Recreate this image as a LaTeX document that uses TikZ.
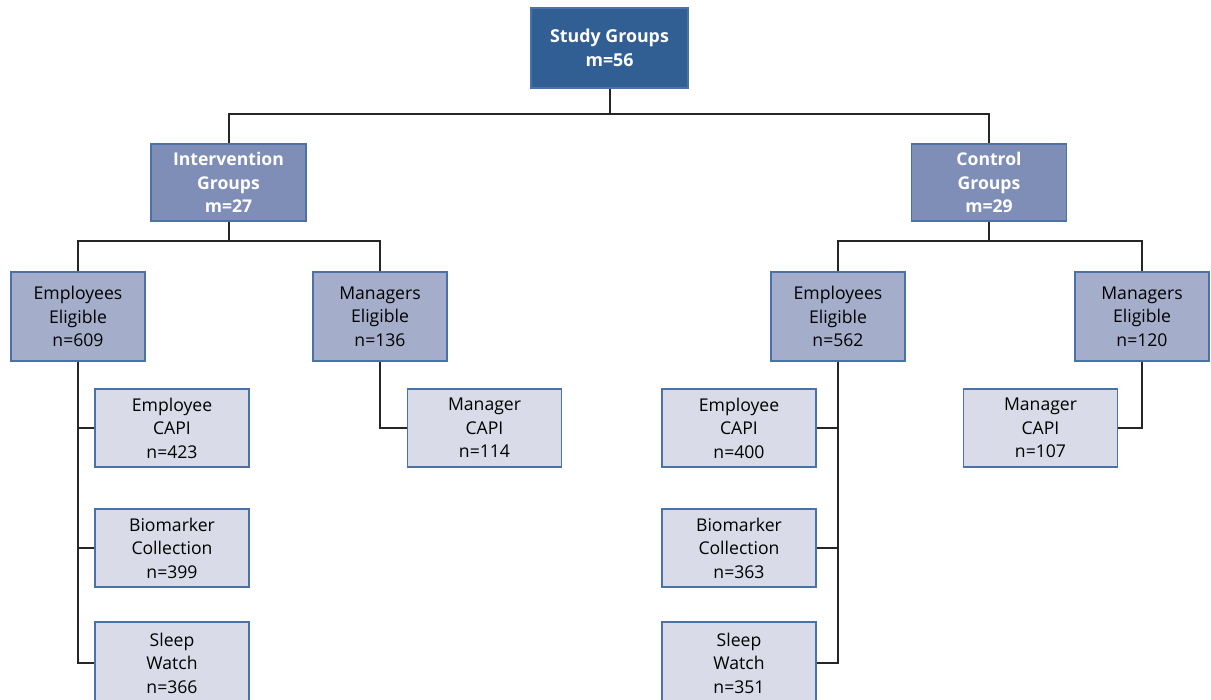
\documentclass[tikz,border=0pt]{standalone}
\usepackage{fontspec}
\setmainfont{Open Sans}
\begin{document}
\begin{tikzpicture}[x=1pt,y=-1pt,
  box/.style={draw=bordblue,line width=1.5pt,align=center,inner sep=0pt,
    font=\fontsize{17.6}{23.5}\selectfont},
  top/.style={box,fill=topblue,text=white,minimum width=157pt,minimum height=80pt,
    font=\fontsize{17.8}{23.5}\selectfont\bfseries},
  mid/.style={box,fill=midblue,text=white,minimum width=155pt,minimum height=77pt,
    font=\fontsize{17.6}{23.5}\selectfont\bfseries},
  elig/.style={box,fill=eligblue,minimum width=134pt,minimum height=89pt},
  leaf/.style={box,fill=leafblue,minimum width=154pt,minimum height=78pt},
  conn/.style={line width=2pt,draw=black!85}]
\definecolor{topblue}{HTML}{315F94}
\definecolor{midblue}{HTML}{7E8EB6}
\definecolor{eligblue}{HTML}{A4AECB}
\definecolor{leafblue}{HTML}{D9DCE8}
\definecolor{bordblue}{HTML}{4A72A8}
\useasboundingbox (0,0) rectangle (1211,700);
\node[top] (sg) at (609.5,48) {Study Groups\\m=56};
\node[mid] (ig) at (228.5,182.5) {Intervention\\Groups\\m=27};
\node[mid] (cg) at (989,182.5) {Control\\Groups\\m=29};
\node[elig] (el) at (78,316.5) {Employees\\Eligible\\n=609};
\node[elig] (ml) at (380,316.5) {Managers\\Eligible\\n=136};
\node[elig] (er) at (838,316.5) {Employees\\Eligible\\n=562};
\node[elig] (mr) at (1142,316.5) {Managers\\Eligible\\n=120};
\node[leaf] (ecl) at (172,428) {Employee\\CAPI\\n=423};
\node[leaf] (bl) at (172,548) {Biomarker\\Collection\\n=399};
\node[leaf,minimum height=82pt] (sl) at (172,663) {Sleep\\Watch\\n=366};
\node[leaf] (mcl) at (484.5,428) {Manager\\CAPI\\n=114};
\node[leaf] (ecr) at (739,428) {Employee\\CAPI\\n=400};
\node[leaf] (br) at (739,548) {Biomarker\\Collection\\n=363};
\node[leaf,minimum height=82pt] (sr) at (739,663) {Sleep\\Watch\\n=351};
\node[leaf] (mcr) at (1040.5,428) {Manager\\CAPI\\n=107};
% connectors
\draw[conn] (sg.south) -- ++(0,25) -| (ig.north);
\draw[conn] (sg.south) -- ++(0,25) -| (cg.north);
\draw[conn] (ig.south) -- ++(0,19) -| (el.north);
\draw[conn] (ig.south) -- ++(0,19) -| (ml.north);
\draw[conn] (cg.south) -- ++(0,19) -| (er.north);
\draw[conn] (cg.south) -- ++(0,19) -| (mr.north);
\draw[conn] (el.south) |- (ecl.west);
\draw[conn] (el.south) |- (bl.west);
\draw[conn] (el.south) |- (sl.west);
\draw[conn] (ml.south) |- (mcl.west);
\draw[conn] (er.south) |- (ecr.east);
\draw[conn] (er.south) |- (br.east);
\draw[conn] (er.south) |- (sr.east);
\draw[conn] (mr.south) |- (mcr.east);
\end{tikzpicture}
\end{document}
